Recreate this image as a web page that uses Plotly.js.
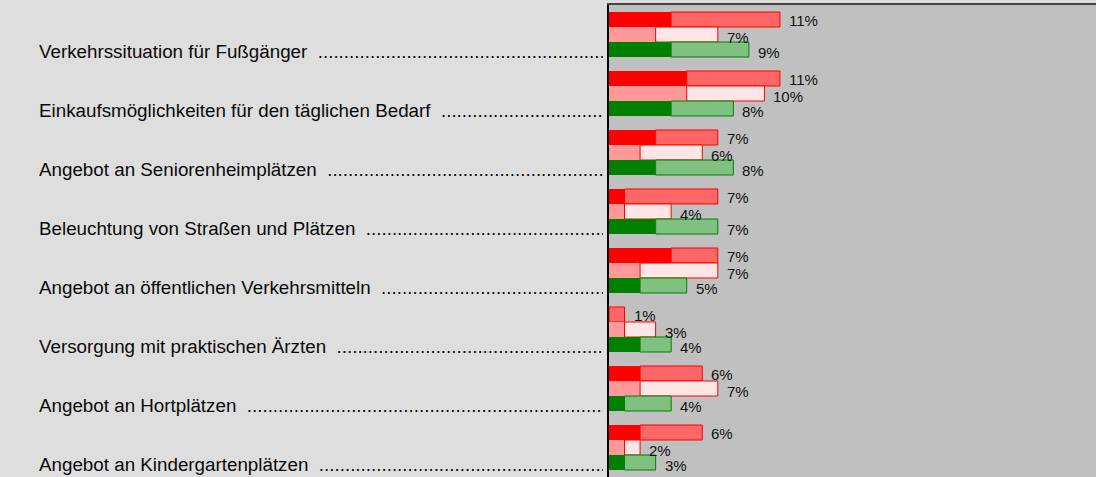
<!DOCTYPE html>
<html>
<head>
<meta charset="utf-8">
<script src="https://cdn.plot.ly/plotly-3.0.1.min.js"></script>
<style>html,body{margin:0;padding:0;background:#dedede;}#chart{width:1096px;height:477px;}</style>
</head>
<body>
<div id="chart"></div>
<script>
// ---- data ----
const categories = [
  "Verkehrssituation für Fußgänger",
  "Einkaufsmöglichkeiten für den täglichen Bedarf",
  "Angebot an Seniorenheimplätzen",
  "Beleuchtung von Straßen und Plätzen",
  "Angebot an öffentlichen Verkehrsmitteln",
  "Versorgung mit praktischen Ärzten",
  "Angebot an Hortplätzen",
  "Angebot an Kindergartenplätzen"
];
const redDark    = [4, 5, 3, 1, 4, 0, 2, 2];
const redTotal   = [11, 11, 7, 7, 7, 1, 6, 6];
const pinkDark   = [3, 5, 2, 1, 2, 1, 2, 1];
const pinkTotal  = [7, 10, 6, 4, 7, 3, 7, 2];
const greenDark  = [4, 4, 3, 3, 2, 2, 1, 1];
const greenTotal = [9, 8, 8, 7, 5, 4, 4, 3];

const series = [
  {key: "r", dark: redDark,   total: redTotal,   cDark: "#ff0000", cLight: "#ff6666", line: "#ff0000", shift: 14},
  {key: "p", dark: pinkDark,  total: pinkTotal,  cDark: "#ff9999", cLight: "#ffe6e6", line: "#ff0000", shift: -3},
  {key: "g", dark: greenDark, total: greenTotal, cDark: "#008000", cLight: "#80c080", line: "#008000", shift: -18}
];

const traces = [];
const annotations = [];
series.forEach(s => {
  traces.push({
    type: "bar", orientation: "h", y: categories, x: s.dark, base: 0,
    offsetgroup: s.key, marker: {color: s.cDark, line: {width: 0}},
    hoverinfo: "skip", showlegend: false
  });
  traces.push({
    type: "bar", orientation: "h", y: categories,
    x: s.total.map((t, i) => t - s.dark[i]), base: s.dark,
    offsetgroup: s.key, marker: {color: s.cLight, line: {color: s.line, width: 1}},
    hoverinfo: "skip", showlegend: false
  });
  categories.forEach((c, i) => {
    annotations.push({
      x: s.total[i], y: c, xref: "x", yref: "y", xanchor: "left", yanchor: "middle",
      xshift: 7, yshift: s.shift, showarrow: false, text: s.total[i] + "%",
      font: {family: "Liberation Sans, Arial, sans-serif", size: 15, color: "#111"}
    });
  });
});

const dots = ".".repeat(220);
categories.forEach(c => {
  annotations.push({
    x: -1.1745, y: c, xref: "paper", yref: "y", xanchor: "left", yanchor: "middle",
    yshift: -17, showarrow: false, align: "left", width: 564,
    text: c + "  " + dots,
    font: {family: "Liberation Sans, Arial, sans-serif", size: 18.8, color: "#0a0a0a"}
  });
});

const layout = {
  width: 1096, height: 477,
  margin: {l: 609, r: 0, t: 5, b: 0, pad: 0},
  paper_bgcolor: "#dedede", plot_bgcolor: "#c0c0c0",
  barmode: "group", bargap: 0.237, bargroupgap: 0,
  showlegend: false,
  xaxis: {range: [0, 31.33], showgrid: false, zeroline: false, showticklabels: false,
          ticks: "", side: "top", showline: true, linecolor: "#444", linewidth: 2, fixedrange: true},
  yaxis: {type: "category", autorange: "reversed", showgrid: false, zeroline: false,
          showticklabels: false, ticks: "", showline: true, linecolor: "#000", linewidth: 2, fixedrange: true},
  annotations: annotations
};

Plotly.newPlot("chart", traces, layout, {displayModeBar: false, staticPlot: true});
</script>
</body>
</html>
